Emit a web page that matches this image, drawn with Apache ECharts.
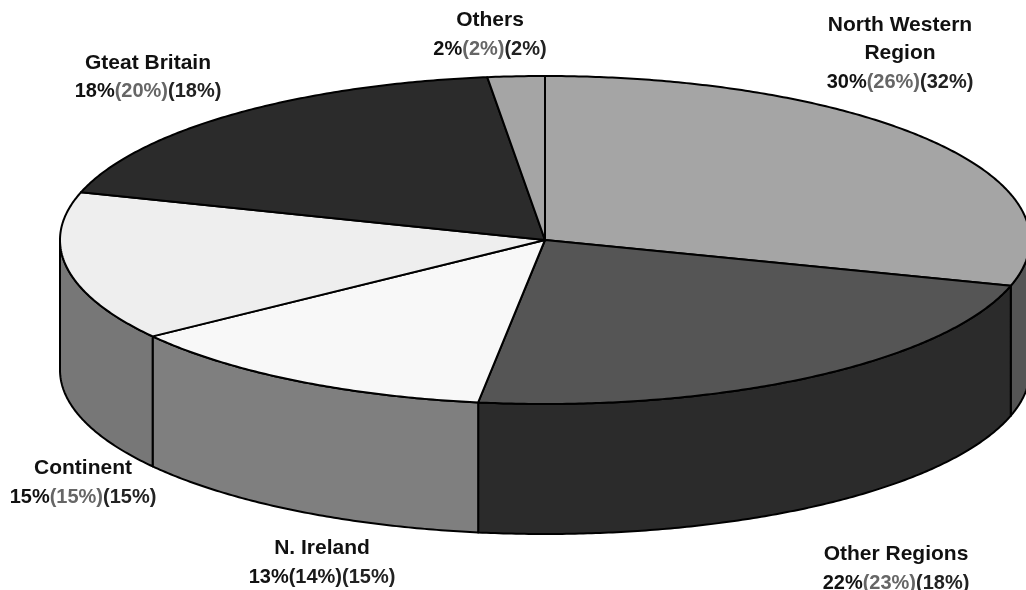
<!DOCTYPE html>
<html>
<head>
<meta charset="utf-8">
<style>html,body{margin:0;padding:0;background:#fff}#c{width:1026px;height:590px}</style>
<script src="https://cdn.jsdelivr.net/npm/echarts@6/dist/echarts.min.js"></script>
</head>
<body>
<div id="c"></div>
<script>
const categories = ['North Western Region', 'Other Regions', 'N. Ireland', 'Continent', 'Gteat Britain', 'Others'];
const sliceShares = [29.5, 22.7, 12.8, 14.7, 18.4, 1.9];
const firstLabel = [30, 22, 13, 15, 18, 2];
const secondLabel = [26, 23, 14, 15, 20, 2];
const thirdLabel = [32, 18, 15, 15, 18, 2];
const topColors = ['#a5a5a5', '#555555', '#f8f8f8', '#eeeeee', '#2b2b2b', '#a5a5a5'];
const sideColors = ['#555555', '#2b2b2b', '#7f7f7f', '#777777', '#161616', '#555555'];

const CX = 545, CY = 240, RX = 485, RY = 164, DEPTH = 130;
const total = sliceShares.reduce((a, b) => a + b, 0);

const labelLayout = [
  { x: 900, y: [25, 53, 82], name: ['North Western', 'Region'], grey: '#666666' },
  { x: 896, y: [554, 583], name: ['Other Regions'], grey: '#666666' },
  { x: 322, y: [548, 577], name: ['N. Ireland'], grey: '#1a1a1a' },
  { x: 83, y: [468, 497], name: ['Continent'], grey: '#666666' },
  { x: 148, y: [63, 91], name: ['Gteat Britain'], grey: '#666666' },
  { x: 490, y: [20, 49], name: ['Others'], grey: '#666666' }
];

function pt(deg, dy) {
  const r = deg * Math.PI / 180;
  return [CX + RX * Math.sin(r), CY - RY * Math.cos(r) + (dy || 0)];
}
function arc(a0, a1, dy) {
  const out = [];
  const n = Math.max(2, Math.ceil(Math.abs(a1 - a0) / 0.5));
  for (let i = 0; i <= n; i++) out.push(pt(a0 + (a1 - a0) * i / n, dy));
  return out;
}
function range(i) {
  let s = 0;
  for (let k = 0; k < i; k++) s += sliceShares[k];
  return [s / total * 360, (s + sliceShares[i]) / total * 360];
}
const line = { stroke: '#000', lineWidth: 2, lineJoin: 'round' };

const textEls = [];
labelLayout.forEach((l, i) => {
  const nameFont = { fontFamily: 'Liberation Sans', fontWeight: 'bold', fontSize: 21 };
  const font = { fontFamily: 'Liberation Sans', fontWeight: 'bold', fontSize: 20 };
  l.name.forEach((t, k) => {
    textEls.push({
      type: 'text', silent: true,
      style: Object.assign({ text: t, x: l.x, y: l.y[k], fill: '#111', align: 'center', verticalAlign: 'middle' }, nameFont)
    });
  });
  const rich = {
    a: Object.assign({ fill: '#111', color: '#111' }, font),
    b: Object.assign({ fill: l.grey, color: l.grey }, font),
    c: Object.assign({ fill: '#222', color: '#222' }, font)
  };
  textEls.push({
    type: 'text', silent: true,
    style: Object.assign({
      text: `{a|${firstLabel[i]}%}{b|(${secondLabel[i]}%)}{c|(${thirdLabel[i]}%)}`,
      x: l.x, y: l.y[l.y.length - 1], align: 'center', verticalAlign: 'middle', rich
    }, font)
  });
});

const option = {
  animation: false,
  backgroundColor: '#fff',
  graphic: textEls,
  series: [
    {
      type: 'custom', coordinateSystem: 'none', silent: true, z: 1,
      data: sliceShares.map((v, i) => ({ name: categories[i], value: [i, v] })),
      renderItem(params, api) {
        const i = api.value(0);
        const [a0, a1] = range(i);
        const s = Math.max(a0, 90), e = Math.min(a1, 270);
        if (e <= s) return { type: 'group', children: [] };
        const pts = arc(s, e, 0).concat(arc(e, s, DEPTH));
        return { type: 'polygon', shape: { points: pts }, style: Object.assign({ fill: sideColors[i] }, line) };
      }
    },
    {
      type: 'custom', coordinateSystem: 'none', silent: true, z: 2,
      data: sliceShares.map((v, i) => ({ name: categories[i], value: [i, v] })),
      renderItem(params, api) {
        const i = api.value(0);
        const [a0, a1] = range(i);
        const pts = [[CX, CY]].concat(arc(a0, a1, 0));
        return { type: 'polygon', shape: { points: pts }, style: Object.assign({ fill: topColors[i] }, line) };
      }
    }
  ]
};
echarts.init(document.getElementById('c'), null, { renderer: 'canvas' }).setOption(option);
</script>
</body>
</html>
